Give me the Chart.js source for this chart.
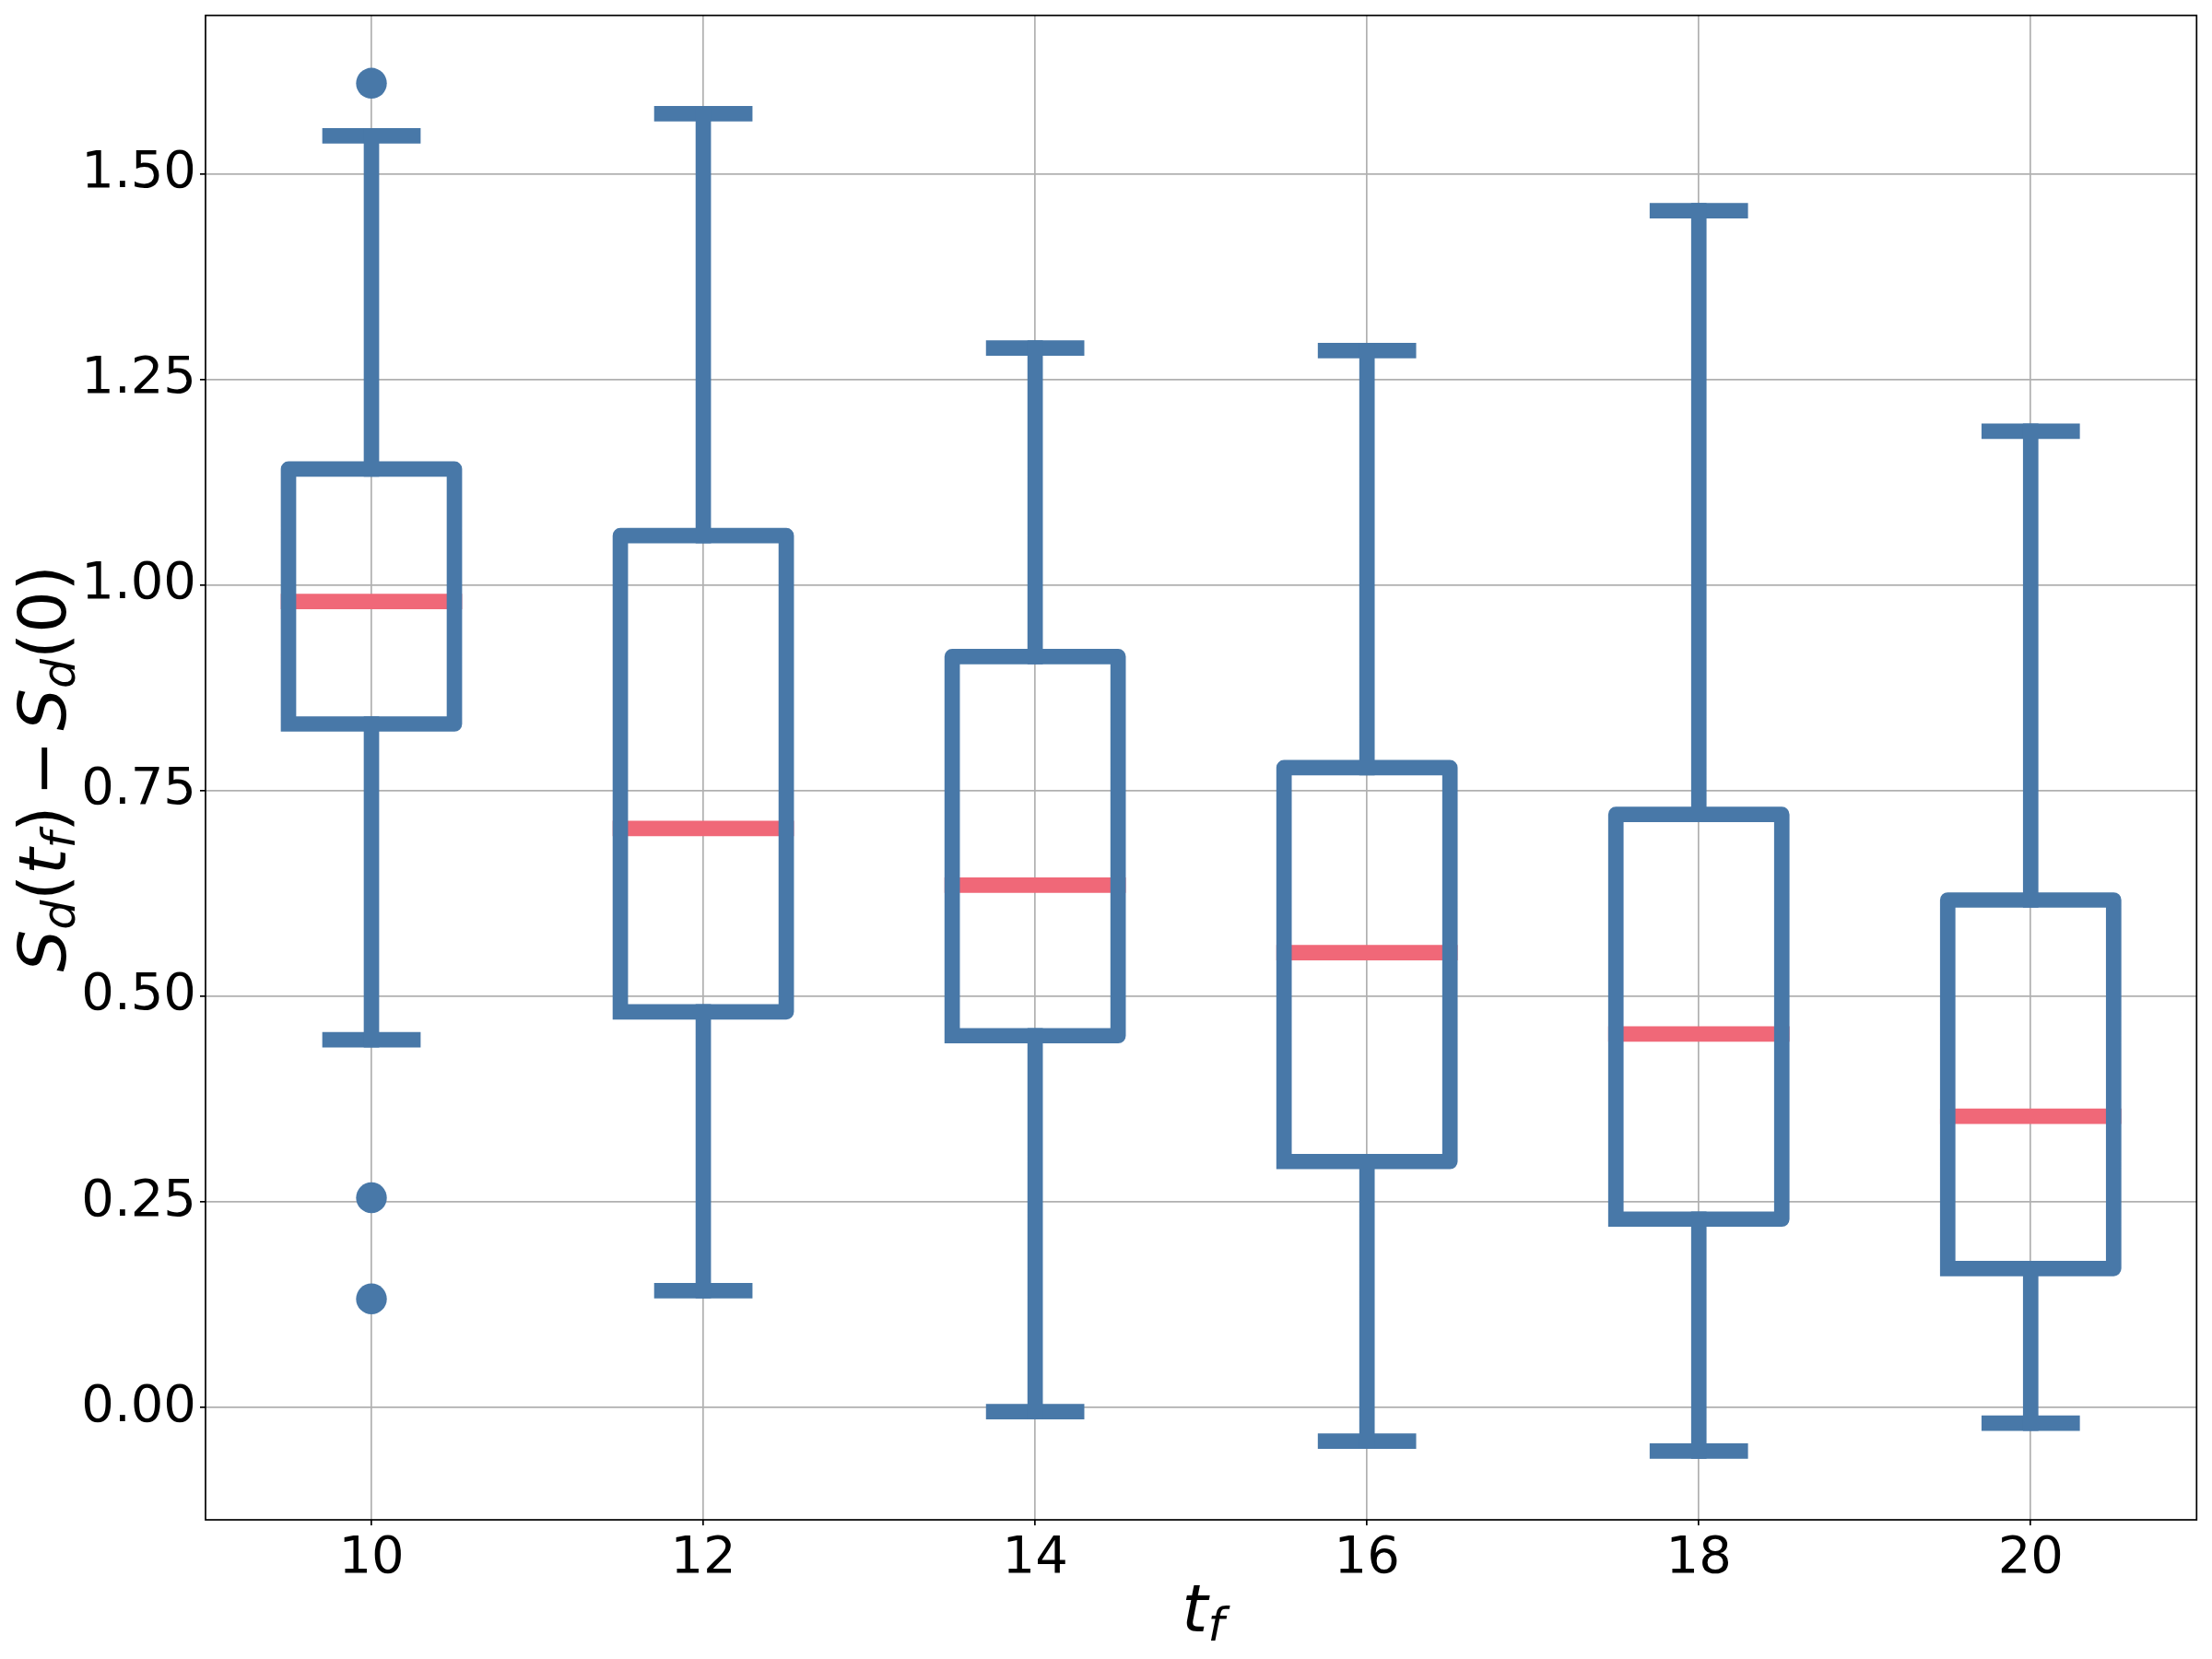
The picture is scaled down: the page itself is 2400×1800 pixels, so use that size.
<!DOCTYPE html>
<html>
<head>
<meta charset="utf-8">
<script src="https://cdn.jsdelivr.net/npm/chart.js@4.4.0/dist/chart.umd.min.js"></script>
<style>
  html, body { margin: 0; padding: 0; background: #fff; }
  #wrap { width: 2400px; height: 1800px; }
</style>
</head>
<body>
<div id="wrap"><canvas id="chart"></canvas></div>
<script>
// box plot statistics
const tfValues = [10, 12, 14, 16, 18, 20];
const whiskerLow = [0.447, 0.142, -0.005, -0.041, -0.053, -0.019];
const q1 = [0.831, 0.481, 0.452, 0.299, 0.229, 0.169];
const medians = [0.980, 0.704, 0.635, 0.553, 0.454, 0.354];
const q3 = [1.141, 1.060, 0.913, 0.778, 0.721, 0.617];
const whiskerHigh = [1.546, 1.573, 1.288, 1.285, 1.455, 1.187];
const outlierTf = [10, 10, 10];
const outlierValues = [1.610, 0.255, 0.132];
const yTicks = [0, 0.25, 0.5, 0.75, 1.0, 1.25, 1.5];

// axis labels as mathtext-like pieces (gap = extra space after, in em)
const xLabelParts = [{t: 't', it: true}, {t: 'f', it: true, sub: true}];
const yLabelParts = [
    {t: 'S', it: true}, {t: 'd', it: true, sub: true}, {t: '('}, {t: 't', it: true},
    {t: 'f', it: true, sub: true}, {t: ')', gap: 0.15}, {t: '\u2212', gap: 0.15}, {t: 'S', it: true},
    {t: 'd', it: true, sub: true}, {t: '(0)'}
];

const blue = '#4878a8';
const red = '#f06878';
const lw = 16.7;
const boxHalf = 0.5, capHalf = 0.25;

function boxPoints() {
    const pts = [];
    tfValues.forEach((x, i) => {
        pts.push({x: x - boxHalf, y: q1[i]}, {x: x + boxHalf, y: q1[i]},
                 {x: x + boxHalf, y: q3[i]}, {x: x - boxHalf, y: q3[i]},
                 {x: x - boxHalf, y: q1[i]}, {x: x, y: null});
    });
    return pts;
}
function whiskerPoints() {
    const pts = [];
    tfValues.forEach((x, i) => {
        pts.push({x: x, y: q1[i]}, {x: x, y: whiskerLow[i]}, {x: x, y: null});
        pts.push({x: x, y: q3[i]}, {x: x, y: whiskerHigh[i]}, {x: x, y: null});
    });
    return pts;
}
function capPoints() {
    const pts = [];
    tfValues.forEach((x, i) => {
        pts.push({x: x - capHalf, y: whiskerLow[i]}, {x: x + capHalf, y: whiskerLow[i]}, {x: x, y: null});
        pts.push({x: x - capHalf, y: whiskerHigh[i]}, {x: x + capHalf, y: whiskerHigh[i]}, {x: x, y: null});
    });
    return pts;
}
function medianPoints() {
    const pts = [];
    tfValues.forEach((x, i) => {
        pts.push({x: x - boxHalf, y: medians[i]}, {x: x + boxHalf, y: medians[i]}, {x: x, y: null});
    });
    return pts;
}

function lineSet(data, color) {
    return {
        data: data, showLine: true, borderColor: color, borderWidth: lw,
        borderCapStyle: 'square', borderJoinStyle: 'round',
        pointRadius: 0, pointHoverRadius: 0, spanGaps: false, clip: false
    };
}

function drawMath(ctx, parts, size) {
    const fontOf = p => (p.it ? 'italic ' : '') + (p.sub ? size * 0.7 : size) + 'px "DejaVu Sans"';
    const adv = p => { ctx.font = fontOf(p); return ctx.measureText(p.t).width + (p.gap || 0) * size; };
    let w = 0;
    parts.forEach(p => { w += adv(p); });
    let x = -w / 2;
    parts.forEach(p => {
        const a = adv(p);
        ctx.fillText(p.t, x, p.sub ? size * 0.14 : 0);
        x += a;
    });
}

const decorations = {
    id: 'decorations',
    afterDatasetsDraw(chart) {
        const {ctx, chartArea: a} = chart;
        ctx.save();
        ctx.strokeStyle = '#000';
        ctx.lineWidth = 1.7;
        ctx.strokeRect(a.left, a.top, a.right - a.left, a.bottom - a.top);
        ctx.restore();
    },
    afterDraw(chart) {
        const {ctx, chartArea: a} = chart;
        ctx.save();
        ctx.fillStyle = '#000';
        ctx.textBaseline = 'alphabetic';
        ctx.textAlign = 'left';
        ctx.save();
        ctx.translate((a.left + a.right) / 2 + 2, 1770);
        drawMath(ctx, xLabelParts, 72);
        ctx.restore();
        ctx.save();
        ctx.translate(71, (a.top + a.bottom) / 2 + 1);
        ctx.rotate(-Math.PI / 2);
        drawMath(ctx, yLabelParts, 72);
        ctx.restore();
        ctx.restore();
    }
};

Chart.defaults.font.family = '"DejaVu Sans"';
Chart.defaults.color = '#000';

new Chart(document.getElementById('chart'), {
    type: 'scatter',
    data: {
        datasets: [
            lineSet(boxPoints(), blue),
            lineSet(whiskerPoints(), blue),
            lineSet(capPoints(), blue),
            lineSet(medianPoints(), red),
            {
                data: outlierTf.map((x, i) => ({x: x, y: outlierValues[i]})),
                backgroundColor: blue, borderWidth: 0,
                pointRadius: 16.7, pointHoverRadius: 16.7, clip: false
            }
        ]
    },
    options: {
        responsive: true,
        maintainAspectRatio: false,
        devicePixelRatio: 1,
        animation: false,
        events: [],
        layout: {padding: {top: 15, right: 15, left: 0, bottom: 0}},
        plugins: {legend: {display: false}, tooltip: {enabled: false}},
        scales: {
            x: {
                type: 'linear', min: 9, max: 21,
                afterBuildTicks: s => { s.ticks = tfValues.map(v => ({value: v})); },
                afterFit: s => { s.height = 151; s.paddingLeft = 0; s.paddingRight = 0; },
                border: {display: false},
                grid: {color: '#b0b0b0', lineWidth: 1.7, tickColor: '#000', tickWidth: 1.7, tickLength: 6},
                ticks: {font: {size: 56}, padding: 3, maxRotation: 0, callback: v => String(v)}
            },
            y: {
                type: 'linear', min: -0.1366, max: 1.6925,
                afterBuildTicks: s => { s.ticks = yTicks.map(v => ({value: v})); },
                afterFit: s => { s.width = 223; s.paddingTop = 0; s.paddingBottom = 0; },
                border: {display: false},
                grid: {color: '#b0b0b0', lineWidth: 1.7, tickColor: '#000', tickWidth: 1.7, tickLength: 6},
                ticks: {font: {size: 56}, padding: 4, callback: v => v.toFixed(2)}
            }
        }
    },
    plugins: [decorations]
});
</script>
</body>
</html>
